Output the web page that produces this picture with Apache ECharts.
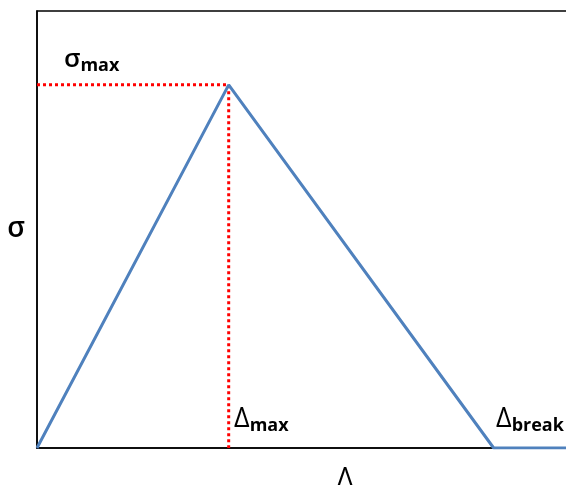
<!DOCTYPE html>
<html>
<head>
<meta charset="utf-8">
<script src="https://cdn.jsdelivr.net/npm/echarts@6/dist/echarts.min.js"></script>
<style>
  html, body { margin: 0; padding: 0; background: #fff; }
  #chart { width: 566px; height: 485px; }
</style>
</head>
<body>
<div id="chart"></div>
<script>
// traction-separation law (bilinear), arbitrary units
var deltaVals = [0, 0.361, 0.860, 1.0];
var sigmaVals = [0, 0.831, 0, 0];
var deltaMax = 0.361;
var sigmaMax = 0.831;

var myChart = echarts.init(document.getElementById('chart'));

var curve = [];
for (var i = 0; i < deltaVals.length; i++) {
	curve.push([deltaVals[i], sigmaVals[i]]);
}

var fontFam = '"Open Sans", "Noto Sans", sans-serif';

// main symbol + bold subscript
function subLabel(main, sub, mainSize, subSize, drop, mainWeight) {
	return {
		text: '{a|' + main + '}{b|' + sub + '}',
		rich: {
			a: { fontSize: mainSize, fontFamily: fontFam, fontWeight: mainWeight || 'normal', fill: '#000' },
			b: { fontSize: subSize, fontFamily: fontFam, fontWeight: 'bold', fill: '#000', padding: [drop, 0, 0, 0] }
		}
	};
}

var option = {
	animation: false,
	grid: {
		left: 37, right: -2, top: 11, bottom: 37,
		outerBoundsMode: 'none',
		show: true,
		borderColor: '#000',
		borderWidth: 1.5
	},
	xAxis: {
		type: 'value', min: 0, max: 1,
		axisLine: { show: true, lineStyle: { color: '#000', width: 1.5 } },
		axisTick: { show: false },
		axisLabel: { show: false },
		splitLine: { show: false }
	},
	yAxis: {
		type: 'value', min: 0, max: 1,
		axisLine: { show: true, lineStyle: { color: '#000', width: 1.5 } },
		axisTick: { show: false },
		axisLabel: { show: false },
		splitLine: { show: false },
		name: 'σ',
		nameLocation: 'middle',
		nameGap: 12,
		nameRotate: 0,
		nameTextStyle: { fontSize: 28, color: '#000', fontFamily: fontFam, fontWeight: 600 }
	},
	series: [
		{
			type: 'line',
			data: [[0, sigmaMax], [deltaMax, sigmaMax], [deltaMax, 0]],
			symbol: 'none',
			lineStyle: { color: '#ff0000', width: 3, type: [3, 3] },
			z: 2
		},
		{
			type: 'line',
			data: curve,
			symbol: 'none',
			lineStyle: { color: '#4f81bd', width: 3 },
			z: 3
		}
	],
	graphic: [
		{ type: 'text', left: 64, top: 47, style: subLabel('σ', 'max', 26, 18, 12, 600) },
		{ type: 'text', left: 234, top: 406, style: subLabel('Δ', 'max', 27, 18, 12) },
		{ type: 'text', left: 496, top: 406, style: subLabel('Δ', 'break', 27, 18, 12) },
		{
			type: 'text', left: 337, top: 465,
			style: { text: 'Δ', fontSize: 28, fontFamily: fontFam, fill: '#000' }
		}
	]
};

myChart.setOption(option);
</script>
</body>
</html>
